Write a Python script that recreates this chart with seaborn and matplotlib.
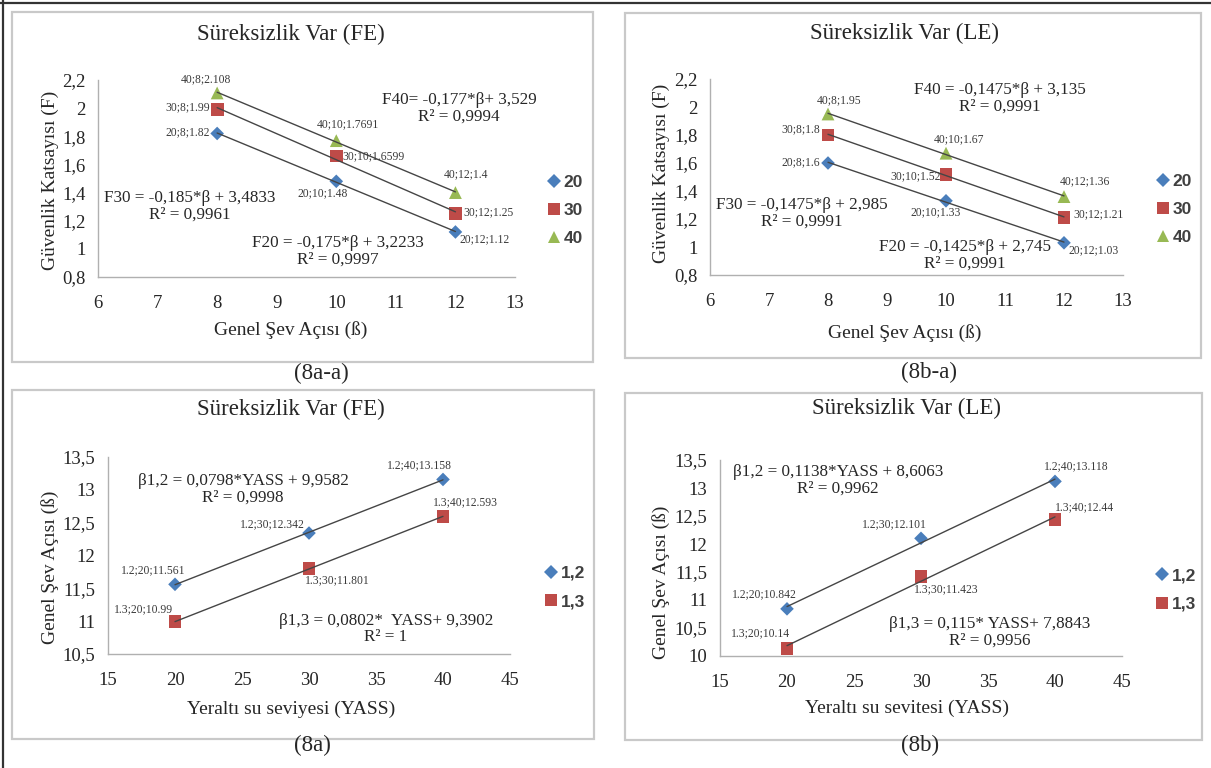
import numpy as np
import pandas as pd
import matplotlib
matplotlib.use("Agg")
import matplotlib.pyplot as plt
import seaborn as sns
from matplotlib.patches import Rectangle
from matplotlib.lines import Line2D
from matplotlib.ticker import MultipleLocator, FuncFormatter

# ---------------- data ----------------
angle_x = [8, 10, 12]
fe_f20 = [1.82, 1.48, 1.12]
fe_f30 = [1.99, 1.6599, 1.25]
fe_f40 = [2.108, 1.7691, 1.4]
le_f20 = [1.6, 1.33, 1.03]
le_f30 = [1.8, 1.52, 1.21]
le_f40 = [1.95, 1.67, 1.36]
top_series = ["20", "30", "40"]

yass_x = [20, 30, 40]
fe_b12 = [11.561, 12.342, 13.158]
fe_b13 = [10.99, 11.801, 12.593]
le_b12 = [10.842, 12.101, 13.118]
le_b13 = [10.14, 11.423, 12.44]
bot_series = ["1,2", "1,3"]
bot_prefix = ["1.2", "1.3"]

titles = ["Süreksizlik Var (FE)", "Süreksizlik Var (LE)",
          "Süreksizlik Var (FE)", "Süreksizlik Var (LE)"]
xlabels = ["Genel Şev Açısı (ß)", "Genel Şev Açısı (ß)",
           "Yeraltı su seviyesi (YASS)", "Yeraltı su sevitesi (YASS)"]
ylabels = ["Güvenlik Katsayısı (F)", "Güvenlik Katsayısı (F)",
           "Genel Şev Açısı (ß)", "Genel Şev Açısı (ß)"]
captions = ["(8a-a)", "(8b-a)", "(8a)", "(8b)"]

eq_p1 = ["F40= -0,177*β+ 3,529\nR² = 0,9994",
         "F30 = -0,185*β + 3,4833\nR² = 0,9961",
         "F20 = -0,175*β + 3,2233\nR² = 0,9997"]
eq_p2 = ["F40 = -0,1475*β + 3,135\nR² = 0,9991",
         "F30 = -0,1475*β + 2,985\nR² = 0,9991",
         "F20 = -0,1425*β + 2,745\nR² = 0,9991"]
eq_p3 = ["β1,2 = 0,0798*YASS + 9,9582\nR² = 0,9998",
         "β1,3 = 0,0802*  YASS+ 9,3902\nR² = 1"]
eq_p4 = ["β1,2 = 0,1138*YASS + 8,6063\nR² = 0,9962",
         "β1,3 = 0,115* YASS+ 7,8843\nR² = 0,9956"]

# ---------------- style ----------------
W, H = 1211, 768
sns.set_theme(style="white")
plt.rcParams["font.family"] = ["Liberation Serif", "DejaVu Serif"]

BLUE, RED, GREEN = "#4A7EBB", "#BE4B48", "#98B954"
TXT = "#262626"
LBL = "#3a3a3a"
SERIF = ["Liberation Serif", "DejaVu Serif"]

fig = plt.figure(figsize=(W / 100, H / 100), dpi=100)


def rect(l, t, r, b):
    return [l / W, 1 - b / H, (r - l) / W, (b - t) / H]


def to_ax(r, px, py):
    l, t, rr, b = r
    return (px - l) / (rr - l), (b - py) / (b - t)


def comma_fmt(v, pos):
    s = f"{v:.1f}"
    if s.endswith(".0"):
        s = s[:-2]
    return s.replace(".", ",")


# frames and outer lines
frames = [(12, 12, 593, 362), (625, 13, 1201, 358),
          (12, 390, 594, 739), (625, 393, 1202, 740)]
for (l, t, r, b) in frames:
    fig.add_artist(Rectangle((l / W, 1 - b / H), (r - l) / W, (b - t) / H,
                             transform=fig.transFigure, fill=False,
                             edgecolor="#c9c9c9", lw=1.6))
fig.add_artist(Line2D([0, 1], [1 - 3 / H, 1 - 3 / H], transform=fig.transFigure,
                      color="#333333", lw=1.6))
fig.add_artist(Line2D([3 / W, 3 / W], [0, 1], transform=fig.transFigure,
                      color="#333333", lw=1.6))

panels = [
    dict(r=(98, 80, 515, 277), x=angle_x, ys=[fe_f20, fe_f30, fe_f40],
         names=top_series, prefix=top_series, xlim=(6, 13), xstep=1,
         ylim=(0.8, 2.2), ystep=0.2, eqs=eq_p1,
         eqpos=[(459, 108), (190, 206), (338, 251)],
         offs=[[(-7, 1, "right"), (-14, -12, "center"), (4, -7, "left")],
               [(-7, 2, "right"), (6, 0, "left"), (8, 1, "left")],
               [(-11, 14, "center"), (12, 16, "center"), (11, 18, "center")]],
         title=(291, 43), xl=(291, 330), yl=(50, 180), leg=(547, 210.5),
         cap=(321, 373)),
    dict(r=(710, 79, 1123, 275), x=angle_x, ys=[le_f20, le_f30, le_f40],
         names=top_series, prefix=top_series, xlim=(6, 13), xstep=1,
         ylim=(0.8, 2.2), ystep=0.2, eqs=eq_p2,
         eqpos=[(1000, 98.5), (802, 213), (965, 255)],
         offs=[[(-8, 1, "right"), (-10, -11, "center"), (4, -7, "left")],
               [(-8, 6, "right"), (-5, -2, "right"), (9, 3, "left")],
               [(11, 14, "center"), (13, 14, "center"), (21, 15, "center")]],
         title=(905, 42), xl=(905, 333), yl=(661, 173), leg=(1156, 209.5),
         cap=(929, 372)),
    dict(r=(108, 457, 510, 654), x=yass_x, ys=[fe_b12, fe_b13],
         names=bot_series, prefix=bot_prefix, xlim=(15, 45), xstep=5,
         ylim=(10.5, 13.5), ystep=0.5, eqs=eq_p3,
         eqpos=[(243, 489), (386, 629)],
         offs=[[(-22, 14, "center"), (-37, 9, "center"), (-24, 14, "center")],
               [(-32, 13, "center"), (28, -12, "center"), (22, 14, "center")]],
         title=(291, 418), xl=(291, 709), yl=(50, 567), leg=(544, 587.5),
         cap=(312, 745)),
    dict(r=(720, 460, 1122, 656), x=yass_x, ys=[le_b12, le_b13],
         names=bot_series, prefix=bot_prefix, xlim=(15, 45), xstep=5,
         ylim=(10, 13.5), ystep=0.5, eqs=eq_p4,
         eqpos=[(838, 480), (990, 632)],
         offs=[[(-23, 15, "center"), (-27, 14, "center"), (21, 15, "center")],
               [(-26, 15, "center"), (25, -13, "center"), (29, 12, "center")]],
         title=(906, 417), xl=(907, 708), yl=(661, 582), leg=(1155, 590),
         cap=(920, 745)),
]

all_markers = ["D", "s", "^"]
all_colors = [BLUE, RED, GREEN]
all_sizes = [48, 85, 85]

for i, p in enumerate(panels):
    r = p["r"]
    ax = fig.add_axes(rect(*r))
    names = p["names"]
    n = len(names)
    df = pd.DataFrame({
        "x": np.tile(p["x"], n),
        "y": np.concatenate(p["ys"]),
        "series": np.repeat(names, len(p["x"])),
    })
    sns.scatterplot(data=df, x="x", y="y", hue="series", style="series",
                    size="series", hue_order=names, style_order=names,
                    size_order=names,
                    palette=dict(zip(names, all_colors[:n])),
                    markers=dict(zip(names, all_markers[:n])),
                    sizes=dict(zip(names, all_sizes[:n])),
                    linewidth=0, ax=ax, zorder=2, clip_on=False)
    for ys in p["ys"]:
        sns.regplot(x=np.array(p["x"], float), y=np.array(ys, float),
                    scatter=False, ci=None, truncate=True, color="#454545",
                    line_kws=dict(lw=1.0, zorder=3), ax=ax)

    # legend
    old = ax.get_legend()
    handles = list(old.legend_handles)
    labels = [t.get_text() for t in old.get_texts()]
    old.remove()
    lx, ly = to_ax(r, *p["leg"])
    leg = ax.legend(handles, labels, loc="center left", bbox_to_anchor=(lx, ly),
                    frameon=False, borderaxespad=0, borderpad=0,
                    handlelength=0.8, handletextpad=0.15, labelspacing=0.75,
                    prop=dict(family=["Liberation Sans", "DejaVu Sans"],
                              weight="bold", size=12.5))
    for t in leg.get_texts():
        t.set_color("#404040")

    # axes cosmetics
    ax.set_xlim(*p["xlim"])
    ax.set_ylim(*p["ylim"])
    ax.xaxis.set_major_locator(MultipleLocator(p["xstep"]))
    ax.yaxis.set_major_locator(MultipleLocator(p["ystep"]))
    ax.yaxis.set_major_formatter(FuncFormatter(comma_fmt))
    ax.xaxis.set_major_formatter(FuncFormatter(comma_fmt))
    for s in ["top", "right"]:
        ax.spines[s].set_visible(False)
    for s in ["left", "bottom"]:
        ax.spines[s].set_color("#b0b0b0")
        ax.spines[s].set_linewidth(1.0)
    ax.tick_params(axis="x", length=0, pad=13, labelsize=13.5, labelcolor=TXT)
    ax.tick_params(axis="y", length=0, pad=9, labelsize=13.5, labelcolor=TXT)
    for t in ax.get_xticklabels() + ax.get_yticklabels():
        t.set_family(SERIF)
    ax.set_facecolor("none")
    ax.grid(False)

    # labels and title
    tx, ty = to_ax(r, *p["title"])
    ax.set_title(titles[i], x=tx, y=ty, va="center", ha="center",
                 fontsize=16.5, color=TXT, family=SERIF)
    ax.set_xlabel(xlabels[i], fontsize=14, color=TXT, family=SERIF)
    ax.xaxis.set_label_coords(*to_ax(r, *p["xl"]))
    ax.xaxis.label.set_va("center")
    ax.set_ylabel(ylabels[i], fontsize=14, color=TXT, family=SERIF)
    ax.yaxis.set_label_coords(*to_ax(r, *p["yl"]))
    ax.yaxis.label.set_va("center")

    # equations
    for eq, (ex, ey) in zip(p["eqs"], p["eqpos"]):
        ax.text(*to_ax(r, ex, ey), eq, transform=ax.transAxes, ha="center",
                va="center", multialignment="center", fontsize=12.3,
                color=TXT, family=SERIF, linespacing=1.05)

    # data labels
    for pre, ys, offs in zip(p["prefix"], p["ys"], p["offs"]):
        for xv, yv, (dx, dy, ha) in zip(p["x"], ys, offs):
            ax.annotate(f"{pre};{xv};{yv:g}", (xv, yv), xytext=(dx, dy),
                        textcoords="offset pixels", ha=ha, va="center",
                        fontsize=8.4, color=LBL, family=SERIF,
                        annotation_clip=False)

    fig.text(p["cap"][0] / W, 1 - p["cap"][1] / H, captions[i], ha="center",
             va="center", fontsize=16.5, color=TXT, family=SERIF)

fig.savefig("out.png", dpi=100)
